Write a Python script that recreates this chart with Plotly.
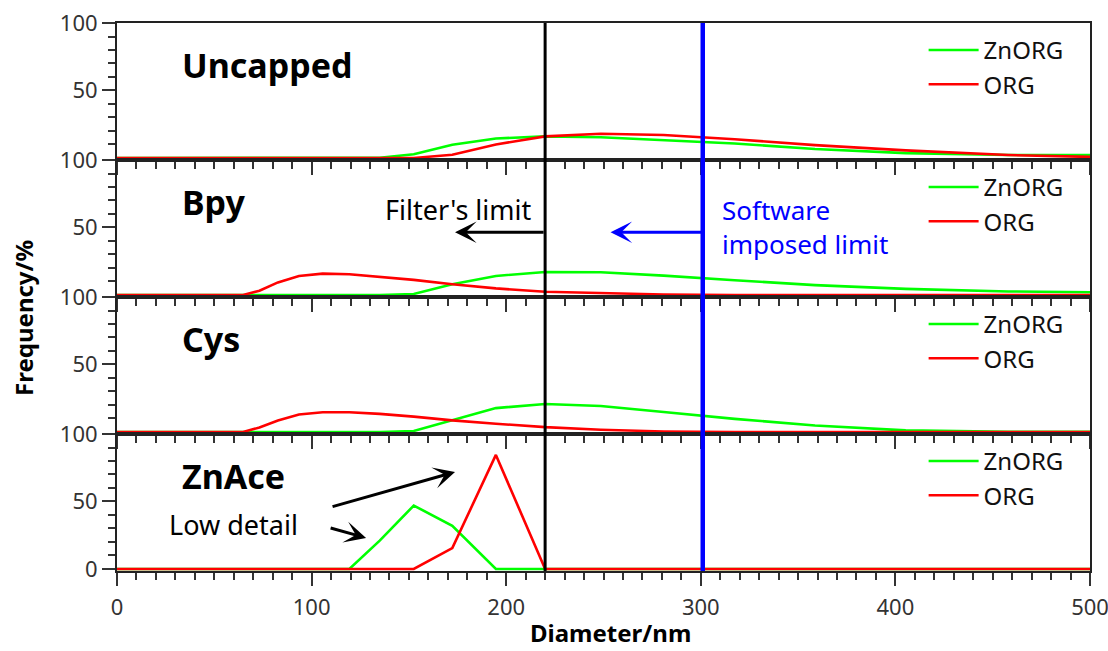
import plotly.graph_objects as go
from plotly.subplots import make_subplots

# ---- data ----
diameter_nm = [0, 57.3, 64.8, 73.2, 82.7, 93.5, 105.7, 119.4, 135.0, 152.5,
               172.3, 194.7, 220.0, 248.6, 280.9, 317.4, 358.7, 405.3, 458.0, 517.5]

panel_names = ["Uncapped", "Bpy", "Cys", "ZnAce"]

uncapped_znorg = [0, 0, 0, 0, 0, 0, 0, 0, 0.2, 2.7, 9.8, 14.4, 16.0, 15.3, 13.1, 10.7, 6.6, 3.6, 2.2, 2.2]
uncapped_org = [0, 0, 0, 0, 0, 0, 0, 0, 0, 0, 2.4, 10.0, 16.0, 18.0, 17.0, 13.9, 9.5, 5.6, 2.2, 0.2]

bpy_znorg = [0, 0, 0, 0, 0, 0, 0, 0, 0, 0.7, 8.0, 14.1, 17.0, 16.8, 14.3, 10.9, 7.3, 4.5, 2.6, 1.8]
bpy_org = [0, 0, 0, 3.1, 9.3, 14.1, 15.8, 15.3, 13.6, 11.2, 8.0, 4.9, 2.4, 1.2, 0.3, 0, 0, 0, 0, 0]

cys_znorg = [0, 0, 0, 0, 0, 0, 0, 0, 0, 0.7, 8.7, 17.7, 20.7, 19.3, 14.8, 9.7, 4.8, 1.2, 0.2, 0]
cys_org = [0, 0, 0, 3.3, 8.5, 12.9, 14.6, 14.6, 13.4, 11.4, 8.6, 6.1, 3.6, 1.7, 0.4, 0, 0, 0, 0, 0]

znace_znorg = [0, 0, 0, 0, 0, 0, 0, 0, 21.0, 47.0, 32.0, 0, 0, 0, 0, 0, 0, 0, 0, 0]
znace_org = [0, 0, 0, 0, 0, 0, 0, 0, 0, 0, 15.5, 84.5, 0, 0, 0, 0, 0, 0, 0, 0]

znorg_series = [uncapped_znorg, bpy_znorg, cys_znorg, znace_znorg]
org_series = [uncapped_org, bpy_org, cys_org, znace_org]

filter_limit_nm = 220
software_limit_nm = 301

x_tick_vals = [0, 100, 200, 300, 400, 500]

# ---- figure ----
FONT = "Noto Sans"
AXIS_C = "#222222"
TICK_C = "#333333"

fig = make_subplots(rows=4, cols=1, shared_xaxes=True, vertical_spacing=0)

for i in range(4):
    leg = "legend" if i == 0 else f"legend{i+1}"
    fig.add_trace(go.Scatter(x=diameter_nm, y=znorg_series[i], mode="lines", name="ZnORG",
                             line=dict(color="#00ff00", width=2.6), legend=leg), row=i + 1, col=1)
    fig.add_trace(go.Scatter(x=diameter_nm, y=org_series[i], mode="lines", name="ORG",
                             line=dict(color="#ff0000", width=2.6), legend=leg), row=i + 1, col=1)

for i in range(1, 5):
    xname = "xaxis" if i == 1 else f"xaxis{i}"
    yname = "yaxis" if i == 1 else f"yaxis{i}"
    fig.layout[xname].update(
        range=[0, 500], tickmode="array", tickvals=x_tick_vals,
        ticks="outside", ticklen=13, tickwidth=1.6, tickcolor=TICK_C,
        minor=dict(tickmode="linear", tick0=0, dtick=10, ticks="outside", ticklen=7,
                   tickwidth=1.6, tickcolor=TICK_C, showgrid=False),
        showline=True, linecolor=AXIS_C, linewidth=2, mirror=True,
        showgrid=False, zeroline=False, showticklabels=(i == 4),
        ticklabeloverflow="allow", ticklabelstandoff=3,
        tickfont=dict(family=FONT, size=22, color=TICK_C),
    )
    fig.layout[yname].update(
        range=[-1.5, 100], tickmode="array",
        tickvals=[0, 50, 100] if i == 4 else [50, 100],
        ticks="outside", ticklen=13, tickwidth=1.6, tickcolor=TICK_C,
        minor=dict(tickmode="array", tickvals=[10, 20, 30, 40, 60, 70, 80, 90], ticks="outside",
                   ticklen=7, tickwidth=1.6, tickcolor=TICK_C, showgrid=False),
        showline=True, linecolor=AXIS_C, linewidth=2, mirror=True,
        showgrid=False, zeroline=False, ticklabeloverflow="allow",
        tickfont=dict(family=FONT, size=22, color=TICK_C),
    )

# vertical limit lines
fig.add_shape(type="line", xref="x", yref="paper", x0=filter_limit_nm, x1=filter_limit_nm,
              y0=0, y1=1, line=dict(color="black", width=3))
fig.add_shape(type="line", xref="x", yref="paper", x0=software_limit_nm, x1=software_limit_nm,
              y0=0, y1=1, line=dict(color="#0000ff", width=4.5))

ann = []
for i, name in enumerate(panel_names):
    ann.append(dict(text=f"<b>{name}</b>", xref="x", yref=("y" if i == 0 else f"y{i+1}"),
                    x=32.5, y=69, xanchor="left", yanchor="middle", showarrow=False,
                    font=dict(family=FONT, size=34, color="black")))

ann.append(dict(text="Filter's limit", xref="x", yref="y2", x=214.5, y=63.5, xanchor="right",
                yanchor="middle", showarrow=False, font=dict(family=FONT, size=27, color="black")))
ann.append(dict(text="", xref="x", yref="y2", x=173.7, y=46.5, axref="x", ayref="y2",
                ax=filter_limit_nm, ay=46.5, showarrow=True, arrowhead=3, arrowsize=1.2,
                arrowwidth=3, arrowcolor="black", standoff=0, startstandoff=0))
ann.append(dict(text="Software<br>imposed limit", xref="x", yref="y2", x=310, y=50,
                xanchor="left", yanchor="middle", align="left", showarrow=False,
                font=dict(family=FONT, size=26, color="#0000ff")))
ann.append(dict(text="", xref="x", yref="y2", x=253.6, y=46.5, axref="x", ayref="y2",
                ax=software_limit_nm, ay=46.5, showarrow=True, arrowhead=3, arrowsize=1.2,
                arrowwidth=3, arrowcolor="#0000ff", standoff=0, startstandoff=0))
ann.append(dict(text="Low detail", xref="x", yref="y4", x=25.5, y=33.3, xanchor="left",
                yanchor="middle", showarrow=False, font=dict(family=FONT, size=27, color="black")))
ann.append(dict(text="", xref="x", yref="y4", x=173.7, y=71.9, axref="x", ayref="y4",
                ax=110, ay=45.9, showarrow=True, arrowhead=3, arrowsize=1.2,
                arrowwidth=3, arrowcolor="black", standoff=0, startstandoff=0))
ann.append(dict(text="", xref="x", yref="y4", x=128, y=23, axref="x", ayref="y4",
                ax=109, ay=30.7, showarrow=True, arrowhead=3, arrowsize=1.2,
                arrowwidth=3, arrowcolor="black", standoff=0, startstandoff=0))

# axis titles
ann.append(dict(text="<b>Frequency/%</b>", xref="paper", yref="paper", x=-0.0956, y=0.4617,
                xanchor="center", yanchor="middle", textangle=-90, showarrow=False,
                font=dict(family=FONT, size=24, color="black")))
ann.append(dict(text="<b>Diameter/nm</b>", xref="paper", yref="paper", x=0.5067, y=-0.1131,
                xanchor="center", yanchor="middle", showarrow=False,
                font=dict(family=FONT, size=24, color="black")))

legend_common = dict(xref="paper", yref="paper", xanchor="left", yanchor="top",
                     bgcolor="rgba(0,0,0,0)", itemwidth=50,
                     font=dict(family=FONT, size=24, color="#111111"))
legend_x = 0.829
legend_y = [0.991, 0.741, 0.491, 0.241]

fig.update_layout(
    width=1108, height=651,
    margin=dict(l=117, r=18, t=23, b=80, autoexpand=False),
    paper_bgcolor="white", plot_bgcolor="white",
    annotations=ann,
    showlegend=True,
    legend=dict(x=legend_x, y=legend_y[0], **legend_common),
    legend2=dict(x=legend_x, y=legend_y[1], **legend_common),
    legend3=dict(x=legend_x, y=legend_y[2], **legend_common),
    legend4=dict(x=legend_x, y=legend_y[3], **legend_common),
    font=dict(family=FONT),
)

fig.write_html("out.html")
